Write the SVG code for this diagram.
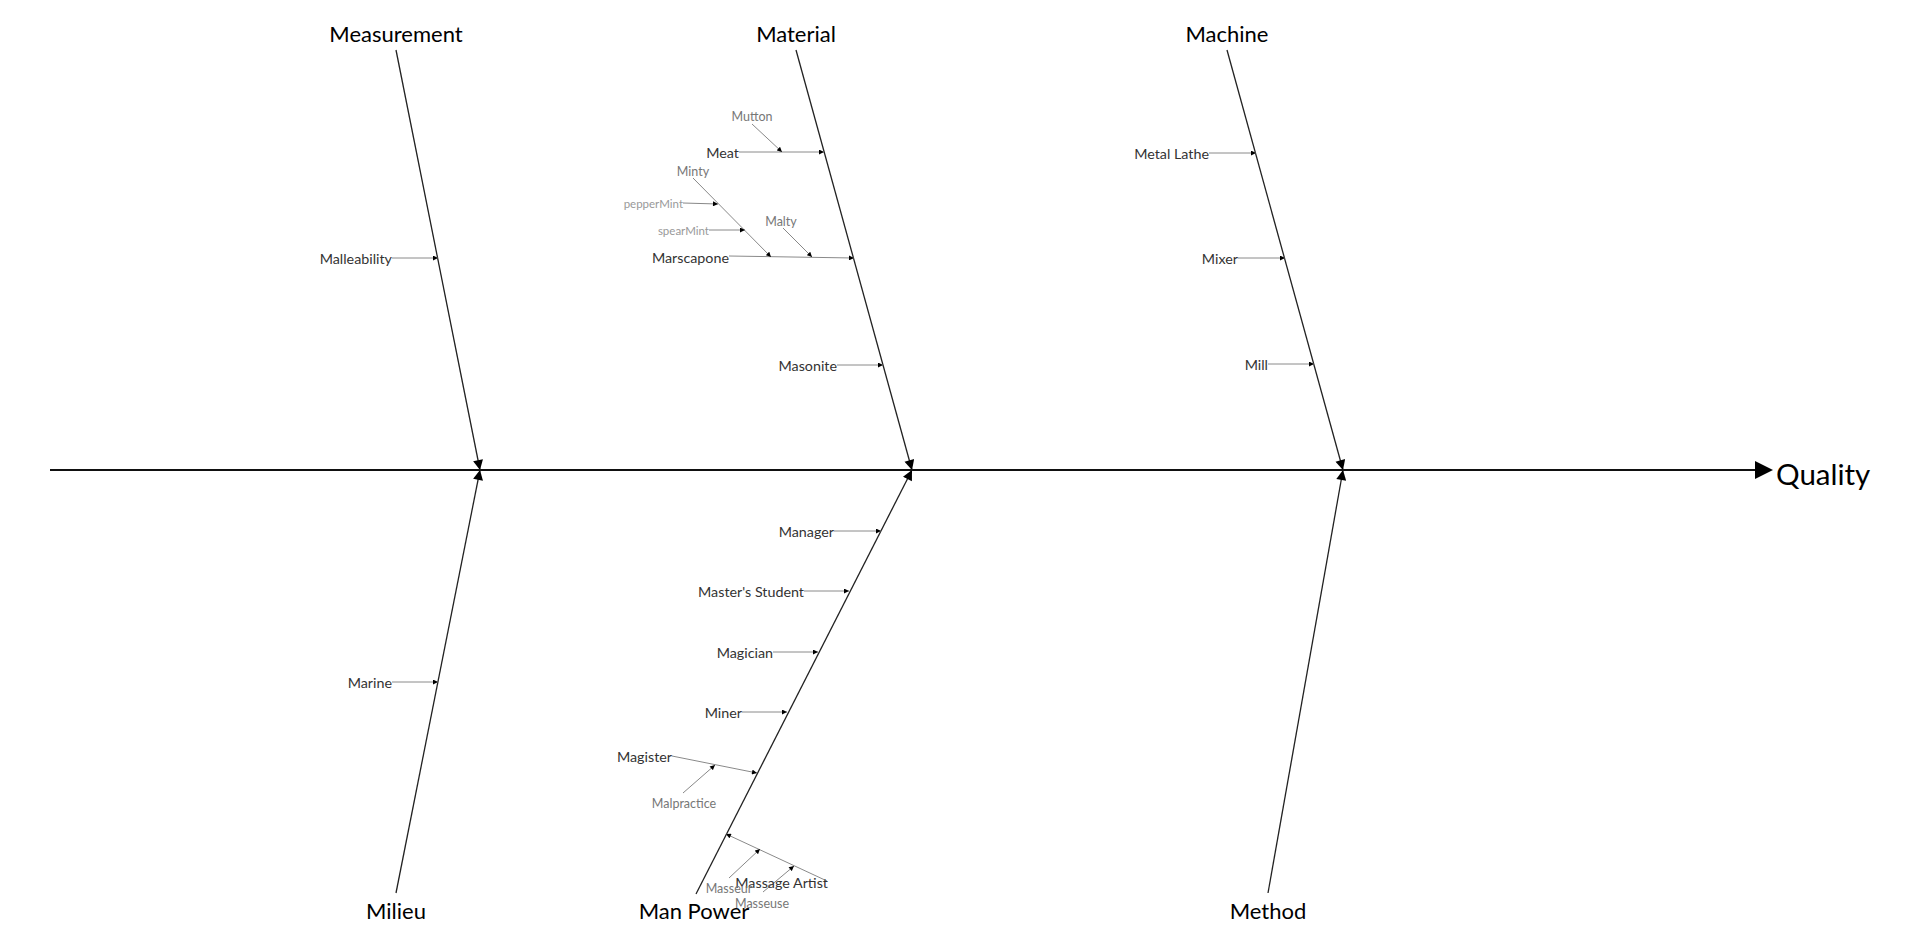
<svg xmlns="http://www.w3.org/2000/svg" width="1920" height="939" viewBox="0 0 1920 939">
<style>
text{font-family:Lato,"Liberation Sans",sans-serif}
.cat{font-size:22px;fill:#000;text-anchor:middle}
.sub{font-size:14.3px;fill:#333;text-anchor:end}
.sub2{font-size:12.5px;fill:#777;text-anchor:middle}
.sub3{font-size:11.5px;fill:#999;text-anchor:end}
.bone{stroke:#222;stroke-width:1.3;fill:none}
.lnk{stroke:#8a8a8a;stroke-width:1;fill:none}
.lnk2{stroke:#888;stroke-width:1;fill:none}
</style>
<defs>
<marker id="big" viewBox="0 0 10 10" refX="10" refY="5" markerUnits="userSpaceOnUse" markerWidth="11" markerHeight="10" orient="auto"><path d="M0,0L10,5L0,10z" fill="#000"/></marker>
<marker id="sm" viewBox="0 0 10 10" refX="10" refY="5" markerUnits="userSpaceOnUse" markerWidth="6" markerHeight="5" orient="auto"><path d="M0,0L10,5L0,10z" fill="#000"/></marker>
</defs>
<rect width="1920" height="939" fill="#fff"/>
<g id="connectors">
<line x1="50" y1="470" x2="1757" y2="470" stroke="#111" stroke-width="2"/>
<polygon points="1773,470 1755,461 1755,479" fill="#000"/>
<line class="bone" x1="396" y1="50" x2="480" y2="470" marker-end="url(#big)"/>
<line class="bone" x1="796" y1="50" x2="912" y2="470" marker-end="url(#big)"/>
<line class="bone" x1="1227" y1="50" x2="1343" y2="470" marker-end="url(#big)"/>
<line class="bone" x1="396" y1="893" x2="480" y2="470" marker-end="url(#big)"/>
<line class="bone" x1="696" y1="894" x2="912" y2="470" marker-end="url(#big)"/>
<line class="bone" x1="1268" y1="893" x2="1343" y2="470" marker-end="url(#big)"/>
<line class="lnk" x1="392" y1="258" x2="438" y2="258" marker-end="url(#sm)"/>
<line class="lnk" x1="739" y1="152" x2="824" y2="152" marker-end="url(#sm)"/>
<line class="lnk2" x1="752" y1="124" x2="782" y2="152" marker-end="url(#sm)"/>
<line class="lnk" x1="729" y1="256" x2="854" y2="258" marker-end="url(#sm)"/>
<line class="lnk2" x1="693" y1="178" x2="771" y2="257" marker-end="url(#sm)"/>
<line class="lnk2" x1="683" y1="203" x2="718" y2="204" marker-end="url(#sm)"/>
<line class="lnk2" x1="709" y1="230" x2="745" y2="230" marker-end="url(#sm)"/>
<line class="lnk2" x1="783" y1="228" x2="812" y2="257" marker-end="url(#sm)"/>
<line class="lnk" x1="837" y1="365" x2="883" y2="365" marker-end="url(#sm)"/>
<line class="lnk" x1="1209" y1="153" x2="1256" y2="153" marker-end="url(#sm)"/>
<line class="lnk" x1="1238" y1="258" x2="1285" y2="258" marker-end="url(#sm)"/>
<line class="lnk" x1="1268" y1="364" x2="1314" y2="364" marker-end="url(#sm)"/>
<line class="lnk" x1="392" y1="682" x2="438" y2="682" marker-end="url(#sm)"/>
<line class="lnk" x1="834" y1="531" x2="881" y2="531" marker-end="url(#sm)"/>
<line class="lnk" x1="804" y1="591" x2="849" y2="591" marker-end="url(#sm)"/>
<line class="lnk" x1="773" y1="652" x2="818" y2="652" marker-end="url(#sm)"/>
<line class="lnk" x1="742" y1="712" x2="787" y2="712" marker-end="url(#sm)"/>
<line class="lnk" x1="672" y1="756" x2="757" y2="773" marker-end="url(#sm)"/>
<line class="lnk2" x1="683" y1="793" x2="715" y2="765" marker-end="url(#sm)"/>
<line class="lnk" x1="827" y1="881" x2="726" y2="834" marker-end="url(#sm)"/>
<line class="lnk2" x1="729" y1="878" x2="760" y2="849" marker-end="url(#sm)"/>
<line class="lnk2" x1="763" y1="892" x2="794" y2="866" marker-end="url(#sm)"/>
</g>
<g id="quality"><text x="1776" y="485" style="font-size:29.5px;fill:#000">Quality</text></g>
<g id="measurement"><text class="cat" x="396" y="42">Measurement</text>
<text class="sub" x="392" y="264">Malleability</text></g>
<g id="material"><text class="cat" x="796" y="42">Material</text>
<text class="sub" x="739" y="158">Meat</text>
<text class="sub2" x="752" y="121">Mutton</text>
<text class="sub" x="729" y="263">Marscapone</text>
<text class="sub2" x="693" y="176">Minty</text>
<text class="sub3" x="683" y="208">pepperMint</text>
<text class="sub3" x="709" y="235">spearMint</text>
<text class="sub2" x="781" y="226">Malty</text>
<text class="sub" x="837" y="371">Masonite</text></g>
<g id="machine"><text class="cat" x="1227" y="42">Machine</text>
<text class="sub" x="1209" y="159">Metal Lathe</text>
<text class="sub" x="1238" y="264">Mixer</text>
<text class="sub" x="1268" y="370">Mill</text></g>
<g id="milieu"><text class="cat" x="396" y="919">Milieu</text>
<text class="sub" x="392" y="688">Marine</text></g>
<g id="manpower"><text class="cat" x="694" y="919">Man Power</text>
<text class="sub" x="834" y="537">Manager</text>
<text class="sub" x="804" y="597">Master's Student</text>
<text class="sub" x="773" y="658">Magician</text>
<text class="sub" x="742" y="718">Miner</text>
<text class="sub" x="672" y="762">Magister</text>
<text class="sub2" x="684" y="808">Malpractice</text>
<text class="sub" x="828" y="888">Massage Artist</text>
<text class="sub2" x="729" y="893">Masseur</text>
<text class="sub2" x="762" y="908">Masseuse</text></g>
<g id="method"><text class="cat" x="1268" y="919">Method</text></g>
</svg>
